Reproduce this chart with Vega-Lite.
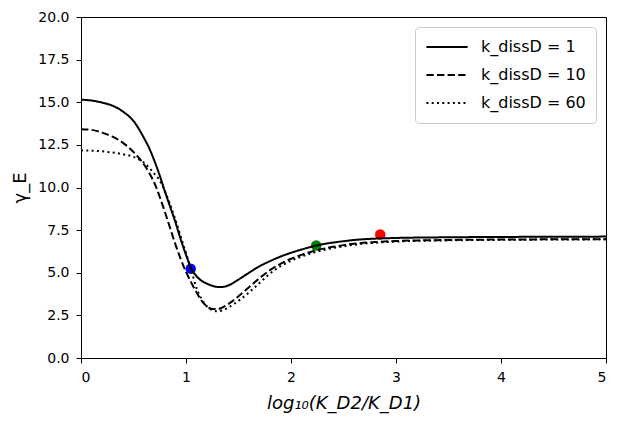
{
  "$schema": "https://vega.github.io/schema/vega-lite/v6.json",
  "description": "gamma_E versus log10(KD2/KD1) for three values of k_dissD",
  "width": 525,
  "height": 341,
  "autosize": {"type": "none"},
  "padding": {"left": 81, "top": 17, "right": 17, "bottom": 64},
  "config": {
    "view": {"stroke": "black", "strokeWidth": 1},
    "axis": {
      "grid": false,
      "domainColor": "black",
      "domainWidth": 1,
      "tickColor": "black",
      "tickSize": 5,
      "tickWidth": 1,
      "labelColor": "black",
      "labelFont": "DejaVu Sans",
      "labelFontSize": 14,
      "labelPadding": 7,
      "titleColor": "black",
      "titleFont": "DejaVu Sans",
      "titleFontSize": 18,
      "titleFontWeight": "normal"
    }
  },
  "datasets": {
    "curves": [
      {"x": 0.0, "y": 15.15, "k": "k_dissD = 1"},
      {"x": 0.1, "y": 15.1, "k": "k_dissD = 1"},
      {"x": 0.2, "y": 14.98, "k": "k_dissD = 1"},
      {"x": 0.3, "y": 14.8, "k": "k_dissD = 1"},
      {"x": 0.4, "y": 14.45, "k": "k_dissD = 1"},
      {"x": 0.5, "y": 13.9, "k": "k_dissD = 1"},
      {"x": 0.6, "y": 12.9, "k": "k_dissD = 1"},
      {"x": 0.65, "y": 12.3, "k": "k_dissD = 1"},
      {"x": 0.7, "y": 11.55, "k": "k_dissD = 1"},
      {"x": 0.75, "y": 10.7, "k": "k_dissD = 1"},
      {"x": 0.8, "y": 9.75, "k": "k_dissD = 1"},
      {"x": 0.85, "y": 8.85, "k": "k_dissD = 1"},
      {"x": 0.9, "y": 7.95, "k": "k_dissD = 1"},
      {"x": 0.95, "y": 6.95, "k": "k_dissD = 1"},
      {"x": 1.0, "y": 6.05, "k": "k_dissD = 1"},
      {"x": 1.05, "y": 5.25, "k": "k_dissD = 1"},
      {"x": 1.1, "y": 4.8, "k": "k_dissD = 1"},
      {"x": 1.15, "y": 4.52, "k": "k_dissD = 1"},
      {"x": 1.2, "y": 4.36, "k": "k_dissD = 1"},
      {"x": 1.25, "y": 4.24, "k": "k_dissD = 1"},
      {"x": 1.3, "y": 4.17, "k": "k_dissD = 1"},
      {"x": 1.35, "y": 4.17, "k": "k_dissD = 1"},
      {"x": 1.4, "y": 4.25, "k": "k_dissD = 1"},
      {"x": 1.5, "y": 4.6, "k": "k_dissD = 1"},
      {"x": 1.6, "y": 5.0, "k": "k_dissD = 1"},
      {"x": 1.7, "y": 5.38, "k": "k_dissD = 1"},
      {"x": 1.8, "y": 5.68, "k": "k_dissD = 1"},
      {"x": 1.9, "y": 5.95, "k": "k_dissD = 1"},
      {"x": 2.0, "y": 6.17, "k": "k_dissD = 1"},
      {"x": 2.1, "y": 6.36, "k": "k_dissD = 1"},
      {"x": 2.2, "y": 6.53, "k": "k_dissD = 1"},
      {"x": 2.3, "y": 6.67, "k": "k_dissD = 1"},
      {"x": 2.4, "y": 6.77, "k": "k_dissD = 1"},
      {"x": 2.5, "y": 6.85, "k": "k_dissD = 1"},
      {"x": 2.6, "y": 6.92, "k": "k_dissD = 1"},
      {"x": 2.8, "y": 7.0, "k": "k_dissD = 1"},
      {"x": 3.0, "y": 7.04, "k": "k_dissD = 1"},
      {"x": 3.5, "y": 7.08, "k": "k_dissD = 1"},
      {"x": 4.0, "y": 7.1, "k": "k_dissD = 1"},
      {"x": 4.5, "y": 7.11, "k": "k_dissD = 1"},
      {"x": 5.0, "y": 7.12, "k": "k_dissD = 1"},
      {"x": 0.0, "y": 13.42, "k": "k_dissD = 10"},
      {"x": 0.1, "y": 13.38, "k": "k_dissD = 10"},
      {"x": 0.2, "y": 13.22, "k": "k_dissD = 10"},
      {"x": 0.3, "y": 12.98, "k": "k_dissD = 10"},
      {"x": 0.4, "y": 12.62, "k": "k_dissD = 10"},
      {"x": 0.5, "y": 12.08, "k": "k_dissD = 10"},
      {"x": 0.6, "y": 11.35, "k": "k_dissD = 10"},
      {"x": 0.65, "y": 10.85, "k": "k_dissD = 10"},
      {"x": 0.7, "y": 10.25, "k": "k_dissD = 10"},
      {"x": 0.75, "y": 9.45, "k": "k_dissD = 10"},
      {"x": 0.8, "y": 8.55, "k": "k_dissD = 10"},
      {"x": 0.85, "y": 7.6, "k": "k_dissD = 10"},
      {"x": 0.9, "y": 6.65, "k": "k_dissD = 10"},
      {"x": 0.95, "y": 5.8, "k": "k_dissD = 10"},
      {"x": 1.0, "y": 5.05, "k": "k_dissD = 10"},
      {"x": 1.05, "y": 4.42, "k": "k_dissD = 10"},
      {"x": 1.1, "y": 3.85, "k": "k_dissD = 10"},
      {"x": 1.15, "y": 3.35, "k": "k_dissD = 10"},
      {"x": 1.2, "y": 3.02, "k": "k_dissD = 10"},
      {"x": 1.25, "y": 2.88, "k": "k_dissD = 10"},
      {"x": 1.3, "y": 2.87, "k": "k_dissD = 10"},
      {"x": 1.35, "y": 2.97, "k": "k_dissD = 10"},
      {"x": 1.4, "y": 3.15, "k": "k_dissD = 10"},
      {"x": 1.5, "y": 3.62, "k": "k_dissD = 10"},
      {"x": 1.6, "y": 4.15, "k": "k_dissD = 10"},
      {"x": 1.7, "y": 4.68, "k": "k_dissD = 10"},
      {"x": 1.8, "y": 5.15, "k": "k_dissD = 10"},
      {"x": 1.9, "y": 5.52, "k": "k_dissD = 10"},
      {"x": 2.0, "y": 5.82, "k": "k_dissD = 10"},
      {"x": 2.1, "y": 6.05, "k": "k_dissD = 10"},
      {"x": 2.2, "y": 6.25, "k": "k_dissD = 10"},
      {"x": 2.3, "y": 6.4, "k": "k_dissD = 10"},
      {"x": 2.4, "y": 6.52, "k": "k_dissD = 10"},
      {"x": 2.5, "y": 6.62, "k": "k_dissD = 10"},
      {"x": 2.6, "y": 6.7, "k": "k_dissD = 10"},
      {"x": 2.8, "y": 6.8, "k": "k_dissD = 10"},
      {"x": 3.0, "y": 6.86, "k": "k_dissD = 10"},
      {"x": 3.5, "y": 6.92, "k": "k_dissD = 10"},
      {"x": 4.0, "y": 6.95, "k": "k_dissD = 10"},
      {"x": 4.5, "y": 6.96, "k": "k_dissD = 10"},
      {"x": 5.0, "y": 6.97, "k": "k_dissD = 10"},
      {"x": 0.0, "y": 12.18, "k": "k_dissD = 60"},
      {"x": 0.1, "y": 12.16, "k": "k_dissD = 60"},
      {"x": 0.2, "y": 12.12, "k": "k_dissD = 60"},
      {"x": 0.3, "y": 12.05, "k": "k_dissD = 60"},
      {"x": 0.4, "y": 11.95, "k": "k_dissD = 60"},
      {"x": 0.5, "y": 11.8, "k": "k_dissD = 60"},
      {"x": 0.55, "y": 11.65, "k": "k_dissD = 60"},
      {"x": 0.6, "y": 11.45, "k": "k_dissD = 60"},
      {"x": 0.65, "y": 11.15, "k": "k_dissD = 60"},
      {"x": 0.7, "y": 10.8, "k": "k_dissD = 60"},
      {"x": 0.75, "y": 10.4, "k": "k_dissD = 60"},
      {"x": 0.8, "y": 9.78, "k": "k_dissD = 60"},
      {"x": 0.85, "y": 8.98, "k": "k_dissD = 60"},
      {"x": 0.9, "y": 8.1, "k": "k_dissD = 60"},
      {"x": 0.95, "y": 7.12, "k": "k_dissD = 60"},
      {"x": 1.0, "y": 6.15, "k": "k_dissD = 60"},
      {"x": 1.05, "y": 5.15, "k": "k_dissD = 60"},
      {"x": 1.1, "y": 4.1, "k": "k_dissD = 60"},
      {"x": 1.15, "y": 3.45, "k": "k_dissD = 60"},
      {"x": 1.2, "y": 3.02, "k": "k_dissD = 60"},
      {"x": 1.25, "y": 2.8, "k": "k_dissD = 60"},
      {"x": 1.3, "y": 2.74, "k": "k_dissD = 60"},
      {"x": 1.35, "y": 2.8, "k": "k_dissD = 60"},
      {"x": 1.4, "y": 2.95, "k": "k_dissD = 60"},
      {"x": 1.5, "y": 3.35, "k": "k_dissD = 60"},
      {"x": 1.6, "y": 3.85, "k": "k_dissD = 60"},
      {"x": 1.7, "y": 4.4, "k": "k_dissD = 60"},
      {"x": 1.8, "y": 4.95, "k": "k_dissD = 60"},
      {"x": 1.9, "y": 5.38, "k": "k_dissD = 60"},
      {"x": 2.0, "y": 5.7, "k": "k_dissD = 60"},
      {"x": 2.1, "y": 5.95, "k": "k_dissD = 60"},
      {"x": 2.2, "y": 6.15, "k": "k_dissD = 60"},
      {"x": 2.3, "y": 6.32, "k": "k_dissD = 60"},
      {"x": 2.4, "y": 6.45, "k": "k_dissD = 60"},
      {"x": 2.5, "y": 6.55, "k": "k_dissD = 60"},
      {"x": 2.6, "y": 6.64, "k": "k_dissD = 60"},
      {"x": 2.8, "y": 6.76, "k": "k_dissD = 60"},
      {"x": 3.0, "y": 6.83, "k": "k_dissD = 60"},
      {"x": 3.5, "y": 6.9, "k": "k_dissD = 60"},
      {"x": 4.0, "y": 6.93, "k": "k_dissD = 60"},
      {"x": 4.5, "y": 6.95, "k": "k_dissD = 60"},
      {"x": 5.0, "y": 6.96, "k": "k_dissD = 60"}
    ],
    "markers": [
      {"x": 1.045, "y": 5.24, "point": "A"},
      {"x": 2.24, "y": 6.6, "point": "B"},
      {"x": 2.85, "y": 7.25, "point": "C"}
    ]
  },
  "layer": [
    {
      "data": {"name": "markers"},
      "mark": {"type": "circle", "size": 110, "opacity": 1},
      "encoding": {
        "x": {"field": "x", "type": "quantitative", "scale": {"domain": [0, 5], "nice": false}},
        "y": {"field": "y", "type": "quantitative", "scale": {"domain": [0, 20], "nice": false}},
        "color": {
          "field": "point",
          "type": "nominal",
          "scale": {"domain": ["A", "B", "C"], "range": ["#0000ff", "#008000", "#ff0000"]},
          "legend": null
        }
      }
    },
    {
      "data": {"name": "curves"},
      "mark": {"type": "line", "color": "black", "strokeWidth": 2, "interpolate": "monotone"},
      "encoding": {
        "x": {
          "field": "x",
          "type": "quantitative",
          "scale": {"domain": [0, 5], "nice": false},
          "axis": {"values": [0, 1, 2, 3, 4, 5], "format": "d", "titlePadding": 10, "titleFontStyle": "italic"},
          "title": "log₁₀(K_D2/K_D1)"
        },
        "y": {
          "field": "y",
          "type": "quantitative",
          "scale": {"domain": [0, 20], "nice": false},
          "axis": {"values": [0, 2.5, 5, 7.5, 10, 12.5, 15, 17.5, 20], "format": ".1f", "titlePadding": 8},
          "title": "γ_E"
        },
        "strokeDash": {
          "field": "k",
          "type": "nominal",
          "scale": {
            "domain": ["k_dissD = 1", "k_dissD = 10", "k_dissD = 60"],
            "range": [[1, 0], [7.4, 3.2], [2, 3.3]]
          },
          "legend": {
            "title": null,
            "orient": "none",
            "legendX": 334,
            "legendY": 10,
            "padding": 10,
            "fillColor": "white",
            "strokeColor": "#cccccc",
            "cornerRadius": 4,
            "symbolType": "stroke",
            "symbolSize": 1700,
            "symbolStrokeColor": "black",
            "symbolStrokeWidth": 2,
            "clipHeight": 20,
            "rowPadding": 8,
            "labelFont": "DejaVu Sans",
            "labelFontSize": 16,
            "labelColor": "black",
            "labelOffset": 12,
            "labelLimit": 300
          }
        }
      }
    }
  ]
}
